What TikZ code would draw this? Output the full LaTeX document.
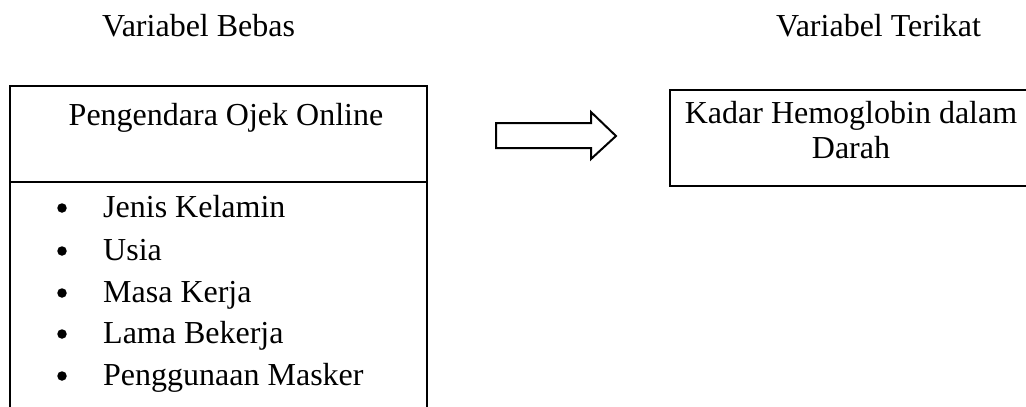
\documentclass[tikz,border=0pt]{standalone}
\usepackage{fontspec}
\setmainfont{Liberation Serif}
\begin{document}
\begin{tikzpicture}[x=1pt,y=-1pt,
  label/.style={inner sep=0pt, font=\fontsize{32}{36}\selectfont},
  frame/.style={draw=black, line width=2pt},
  dot/.style={circle, fill=black, inner sep=0pt, minimum size=9.5pt}]
  \useasboundingbox[fill=white] (0,0) rectangle (1026,407);

  % column headers
  \node[label, anchor=base west] (hdrA) at (102,36) {Variabel Bebas};
  \node[label, anchor=base west] (hdrB) at (776,36) {Variabel Terikat};

  % independent variable box with its list of factors
  \draw[frame] (10,430) -- (10,86) -- (427,86) -- (427,430);
  \draw[frame] (10,182) -- (427,182);
  \node[label, anchor=base] (ojek) at (226,125) {Pengendara Ojek Online};

  \foreach \y/\t [count=\i] in {217/Jenis Kelamin, 260/Usia, 302/Masa Kerja,
                                343/Lama Bekerja, 385/Penggunaan Masker} {
    \node[dot] (b\i) at (62,\y-9) {};
    \node[label, anchor=base west] (f\i) at (103,\y) {\t};
  }

  % block arrow
  \draw[line width=2pt, line join=miter, fill=white]
    (496,123) -- (591,123) -- (591,112) -- (616,136) -- (591,159)
    -- (591,148) -- (496,148) -- cycle;

  % dependent variable box
  \draw[frame] (1040,90) -- (670,90) -- (670,186) -- (1040,186);
  \node[label, anchor=base] (hb1) at (851,123) {Kadar Hemoglobin dalam};
  \node[label, anchor=base] (hb2) at (851,158) {Darah};
\end{tikzpicture}
\end{document}
